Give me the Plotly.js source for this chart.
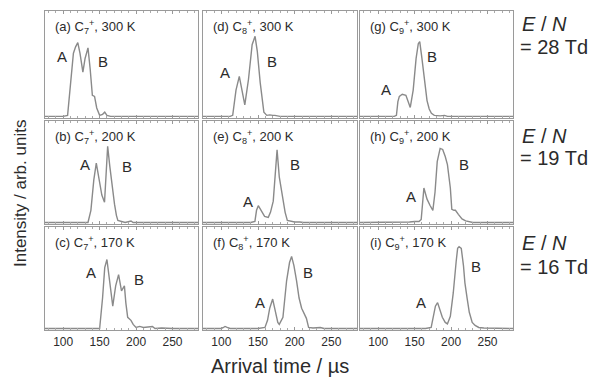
<!DOCTYPE html>
<html>
<head>
<meta charset="utf-8">
<script src="https://cdn.plot.ly/plotly-3.0.1.min.js"></script>
<style>html,body{margin:0;padding:0;background:#fff;}#chart{width:592px;height:377px;}</style>
</head>
<body>
<div id="chart"></div>
<script>
// Arrival time (µs) and normalized intensity for each panel
var c7_300_t = [75,100,106,110,114,117,120,123,127,130,134,137,140,143,146,150,154,157,160,165,285];
var c7_300_i = [0,0,0.01,0.3,0.6,0.66,0.70,0.6,0.42,0.55,0.65,0.45,0.2,0.19,0.08,0.01,0.02,0.04,0.01,0,0];
var c7_200_t = [75,120,134,138,142,145.4,149,153,156.7,159,161,164,167,170.4,173,175,185,190,193,196,200,285];
var c7_200_i = [0,0,0,0.12,0.42,0.585,0.42,0.27,0.2,0.5,0.75,0.55,0.35,0.18,0.07,0.02,0.0,0.01,0.015,0.0,0,0];
var c7_170_t = [75,140,150,154,157,160,163,168,172,176,180,184,186,188.5,193,196,200,205,210,215,222.5,226,235,250,285];
var c7_170_i = [0,0,0,0.3,0.6,0.68,0.5,0.22,0.42,0.53,0.37,0.42,0.25,0.11,0.08,0.04,0.01,0.02,0.01,0.015,0.02,0.0,0.005,0,0];

var c8_300_t = [75,100,112,115.5,120,124.5,128,132,137,142,146,149,153,156,158,162,166,170,173,180,285];
var c8_300_i = [0,0,0,0.01,0.25,0.38,0.25,0.11,0.35,0.68,0.76,0.62,0.32,0.12,0.04,0.01,0.015,0.01,0.01,0,0];
var c8_200_t = [75,140,145.8,148,150.4,154,159,164,167,170.8,173,176,179,183.5,187,190,195,200,207,212,285];
var c8_200_i = [0,0,0.01,0.12,0.165,0.12,0.06,0.05,0.1,0.21,0.45,0.715,0.45,0.245,0.1,0.02,0.01,0.005,0.005,0,0];
var c8_170_t = [75,100,103,105,108,112,150,159.5,163,166,170,174,177,179,184,189,193,195.8,199,202.6,206,209.5,214,216,219,225,235,240,285];
var c8_170_i = [0,0,0.01,0.02,0.01,0,0,0.01,0.08,0.2,0.29,0.16,0.06,0.04,0.11,0.47,0.65,0.71,0.62,0.47,0.3,0.2,0.12,0.1,0.01,0.005,0.01,0,0];

var c9_300_t = [75,110,122,125,127,129,133,138,141,144,148,152,155,157,160,163.6,167,170,173,177,185,191,195,285];
var c9_300_i = [0,0,0,0.01,0.14,0.19,0.21,0.2,0.14,0.085,0.25,0.55,0.69,0.71,0.55,0.32,0.15,0.07,0.03,0.01,0.005,0.01,0,0];
var c9_200_t = [75,140,143,150,156,159,161,162.7,165,167,171,175,178,181,185,188.5,192,195,199,201,204,206,210,215,220,224,230,285];
var c9_200_i = [0,0,0.005,0.01,0.01,0.03,0.2,0.34,0.28,0.23,0.17,0.12,0.3,0.6,0.73,0.72,0.65,0.57,0.34,0.13,0.12,0.12,0.08,0.035,0.015,0.01,0,0];
var c9_170_t = [75,165,172.7,176,178.5,181.5,184,188,192,195,199,203,207,209,211,214,217,219,222,225,229,233,238,245,285];
var c9_170_i = [0,0,0.01,0.13,0.22,0.255,0.2,0.11,0.06,0.045,0.12,0.35,0.66,0.79,0.805,0.79,0.62,0.45,0.3,0.16,0.06,0.03,0.01,0.005,0];

var panelLabels = ["(a) C<sub>7</sub><sup>+</sup>, 300 K","(b) C<sub>7</sub><sup>+</sup>, 200 K","(c) C<sub>7</sub><sup>+</sup>, 170 K",
                   "(d) C<sub>8</sub><sup>+</sup>, 300 K","(e) C<sub>8</sub><sup>+</sup>, 200 K","(f) C<sub>8</sub><sup>+</sup>, 170 K",
                   "(g) C<sub>9</sub><sup>+</sup>, 300 K","(h) C<sub>9</sub><sup>+</sup>, 200 K","(i) C<sub>9</sub><sup>+</sup>, 170 K"];
// positions of peak labels A and B (arrival time, intensity)
var labelA_t = [98,129.5,138.6,105,136.7,152.7,111,145.4,159];
var labelA_i = [0.57,0.57,0.55,0.415,0.21,0.255,0.255,0.26,0.255];
var labelB_t = [154,188,203.5,169,200,218.5,174.5,218,234];
var labelB_i = [0.52,0.55,0.48,0.52,0.57,0.55,0.57,0.57,0.61];
var fieldValues = ["28","19","16"];
var xTicks = [100,150,200,250];

var series = [[c7_300_t,c7_300_i],[c7_200_t,c7_200_i],[c7_170_t,c7_170_i],
              [c8_300_t,c8_300_i],[c8_200_t,c8_200_i],[c8_170_t,c8_170_i],
              [c9_300_t,c9_300_i],[c9_200_t,c9_200_i],[c9_170_t,c9_170_i]];

var W = 592, H = 377;
var colPx = [[45,198],[203,357],[360,513]];
var rowPx = [[11,118],[121,224],[227,330]];
function px(x){return x/W;}
function py(y){return 1 - y/H;}

var FONT = 'Liberation Sans, Arial, Helvetica, sans-serif';
var textColor = '#2b2b2b';
var data = [];
var layout = {
  width: W, height: H,
  margin: {l:0,r:0,t:0,b:0},
  paper_bgcolor: '#fff', plot_bgcolor: '#fff',
  showlegend: false,
  font: {family: FONT, color: textColor},
  annotations: []
};
for (var c = 0; c < 3; c++) {
  for (var r = 0; r < 3; r++) {
    var k = c*3 + r;
    var n = k + 1;
    var xa = 'xaxis' + (n === 1 ? '' : n);
    var ya = 'yaxis' + (n === 1 ? '' : n);
    var xr = 'x' + (n === 1 ? '' : n);
    var yr = 'y' + (n === 1 ? '' : n);
    data.push({x: series[k][0], y: series[k][1], xaxis: xr, yaxis: yr, type: 'scatter', mode: 'lines',
               line: {color: '#8a8a8a', width: 1.4}, hoverinfo: 'skip'});
    layout[xa] = {
      domain: [px(colPx[c][0]), px(colPx[c][1])],
      anchor: yr, range: [75, 285], tickvals: xTicks, showticklabels: r === 2,
      ticks: 'inside', ticklen: 3, tickcolor: '#999', tickwidth: 1,
      minor: {dtick: 10, tick0: 0, ticks: 'inside', ticklen: 2, tickcolor: '#aaa'},
      showline: true, linecolor: '#9a9a9a', linewidth: 1.3, mirror: 'ticks',
      showgrid: false, zeroline: false,
      tickfont: {size: 12, color: textColor, family: FONT}
    };
    layout[ya] = {
      domain: [py(rowPx[r][1]), py(rowPx[r][0])],
      anchor: xr, range: [-0.015, 1], showticklabels: false, ticks: '',
      showline: true, linecolor: '#9a9a9a', linewidth: 1.3, mirror: true,
      showgrid: false, zeroline: false
    };
    layout.annotations.push({xref: 'paper', yref: 'paper', x: px(colPx[c][0] + 8), y: py(rowPx[r][0] + 16),
      xanchor: 'left', yanchor: 'middle', showarrow: false, text: panelLabels[k],
      font: {size: 13, color: textColor}});
    layout.annotations.push({xref: xr, yref: yr, x: labelA_t[k], y: labelA_i[k], showarrow: false, text: 'A',
      xanchor: 'center', yanchor: 'middle', font: {size: 15, color: textColor}});
    layout.annotations.push({xref: xr, yref: yr, x: labelB_t[k], y: labelB_i[k], showarrow: false, text: 'B',
      xanchor: 'center', yanchor: 'middle', font: {size: 15, color: textColor}});
  }
}
var enY = [[24,47],[136,158],[243,267]];
for (var r2 = 0; r2 < 3; r2++) {
  layout.annotations.push({xref: 'paper', yref: 'paper', x: px(520), y: py(enY[r2][0]), xanchor: 'left', yanchor: 'middle',
    showarrow: false, text: '<i>E</i> / <i>N</i>', font: {size: 20, color: textColor}});
  layout.annotations.push({xref: 'paper', yref: 'paper', x: px(518), y: py(enY[r2][1]), xanchor: 'left', yanchor: 'middle',
    showarrow: false, text: '= ' + fieldValues[r2] + ' Td', font: {size: 20, color: textColor}});
}
layout.annotations.push({xref: 'paper', yref: 'paper', x: px(280), y: py(366), xanchor: 'center', yanchor: 'middle',
  showarrow: false, text: 'Arrival time / µs', font: {size: 20, color: textColor}});
layout.annotations.push({xref: 'paper', yref: 'paper', x: px(20), y: py(194), xanchor: 'center', yanchor: 'middle',
  showarrow: false, textangle: -90, text: 'Intensity / arb. units', font: {size: 17, color: textColor}});

Plotly.newPlot('chart', data, layout, {staticPlot: true, displayModeBar: false});
</script>
</body>
</html>
